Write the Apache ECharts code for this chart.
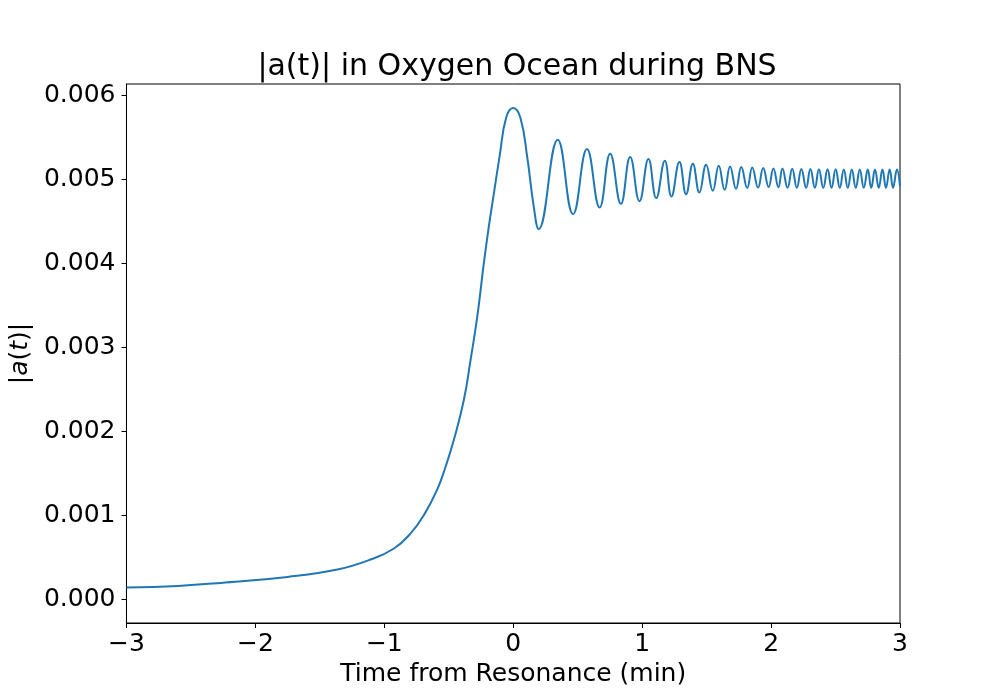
<!DOCTYPE html>
<html lang="en">
<head>
    <meta charset="UTF-8">
    <title>|a(t)| in Oxygen Ocean during BNS</title>
    <script src="https://cdn.jsdelivr.net/npm/echarts@6.0.0/dist/echarts.min.js"></script>
    <style>
        html, body{
            margin: 0;
            padding: 0;
            background: #fff;
        }
        #chart{
            width: 1000px;
            height: 700px;
        }
    </style>
</head>
<body>
<div id="chart"></div>
<script>
    /*time from resonance (min): rise, then peaks/troughs of the ringing*/
    const timeMin = [
        -3.0, -2.6, -2.267, -1.75, -1.363, -1.106, -0.925, -0.796, -0.693, -0.589,
        -0.525, -0.461, -0.383, -0.331, -0.279, -0.228, -0.19, -0.15, -0.105, -0.055,
        0.0, 0.056, 0.108, 0.159, 0.197,
        0.345, 0.464, 0.572, 0.670, 0.752, 0.835, 0.907, 0.979, 1.049, 1.109,
        1.176, 1.227, 1.289, 1.341, 1.393, 1.444, 1.496, 1.548, 1.594, 1.640,
        1.682, 1.728, 1.769, 1.815, 1.854, 1.899, 1.939, 1.981, 2.018, 2.057,
        2.088, 2.128, 2.164, 2.200, 2.235, 2.272, 2.305, 2.340, 2.371, 2.405,
        2.438, 2.469, 2.501, 2.533, 2.564, 2.595, 2.626, 2.657, 2.688, 2.719,
        2.750, 2.777, 2.806, 2.835, 2.864, 2.891, 2.920, 2.946, 2.976, 3.0
    ];
    /*|a(t)| at those times*/
    const amplitude = [
        0.000143, 0.000162, 0.000198, 0.000269, 0.000357, 0.000476, 0.000607, 0.000786, 0.001004, 0.00131,
        0.001579, 0.001896, 0.002373, 0.002849, 0.003364, 0.004000, 0.004430, 0.004830, 0.005280, 0.005730,
        0.005845, 0.005726, 0.005269, 0.004674, 0.004405,
        0.005468, 0.004583, 0.005357, 0.004662, 0.005301, 0.004706, 0.005262, 0.004738, 0.005238, 0.004774,
        0.005218, 0.004793, 0.005202, 0.004821, 0.005182, 0.004840, 0.005170, 0.004861, 0.005158, 0.004873,
        0.005150, 0.004885, 0.005143, 0.004893, 0.005138, 0.004900, 0.005131, 0.004905, 0.005126, 0.004902,
        0.005125, 0.004896, 0.005122, 0.004896, 0.005120, 0.004896, 0.005119, 0.004896, 0.005118, 0.004896,
        0.005117, 0.004896, 0.005117, 0.004896, 0.005115, 0.004896, 0.005115, 0.004896, 0.005114, 0.004896,
        0.005114, 0.004896, 0.005114, 0.004896, 0.005113, 0.004896, 0.005113, 0.004896, 0.005113, 0.004912
    ];
    const yTicks = [0, 0.001, 0.002, 0.003, 0.004, 0.005, 0.006];
    const xTicks = [-3, -2, -1, 0, 1, 2, 3];

    const font = 'DejaVu Sans';
    const seriesData = timeMin.map((t, i) => [t, amplitude[i]]);

    const chart = echarts.init(document.getElementById('chart'), null, {renderer: 'canvas'});
    const option = {
        backgroundColor: '#fff',
        animation: false,
        title: {
            text: '|a(t)| in Oxygen Ocean during BNS',
            left: 512,
            top: 47,
            textAlign: 'center',
            textStyle: {
                fontFamily: font,
                fontSize: 30,
                fontWeight: 'normal',
                color: '#000'
            }
        },
        grid: {
            left: 125,
            right: 100,
            top: 84,
            bottom: 77,
            show: true,
            borderColor: '#000',
            borderWidth: 1,
            backgroundColor: 'transparent'
        },
        xAxis: {
            type: 'value',
            min: xTicks[0],
            max: xTicks[xTicks.length - 1],
            interval: 1,
            name: 'Time from Resonance (min)',
            nameLocation: 'middle',
            nameGap: 37,
            nameTextStyle: {fontFamily: font, fontSize: 25, color: '#000'},
            axisLine: {show: true, onZero: false, lineStyle: {color: '#000', width: 1}},
            axisTick: {show: true, inside: false, length: 5, lineStyle: {color: '#000'}},
            splitLine: {show: false},
            axisLabel: {
                margin: 9,
                fontFamily: font,
                fontSize: 25,
                color: '#000',
                formatter: v => String(v).replace('-', '\u2212')
            }
        },
        yAxis: {
            type: 'value',
            min: -0.000279,
            max: 0.006131,
            name: '{n||}{i|a}{n|(}{i|t}{n|)|}',
            nameLocation: 'middle',
            nameGap: 90,
            nameTextStyle: {
                fontFamily: font,
                fontSize: 25,
                color: '#000',
                rich: {
                    n: {fontFamily: font, fontSize: 25, color: '#000'},
                    i: {fontFamily: font, fontSize: 25, color: '#000', fontStyle: 'italic'}
                }
            },
            axisLine: {show: true, onZero: false, lineStyle: {color: '#000', width: 1}},
            axisTick: {show: true, inside: false, length: 5, customValues: yTicks, lineStyle: {color: '#000'}},
            splitLine: {show: false},
            axisLabel: {
                margin: 11,
                customValues: yTicks,
                fontFamily: font,
                fontSize: 25,
                color: '#000',
                formatter: v => v.toFixed(3)
            }
        },
        series: [{
            type: 'line',
            data: seriesData,
            smooth: 0.45,
            showSymbol: false,
            lineStyle: {color: '#1f77b4', width: 2}
        }]
    };
    chart.setOption(option);
</script>
</body>
</html>
